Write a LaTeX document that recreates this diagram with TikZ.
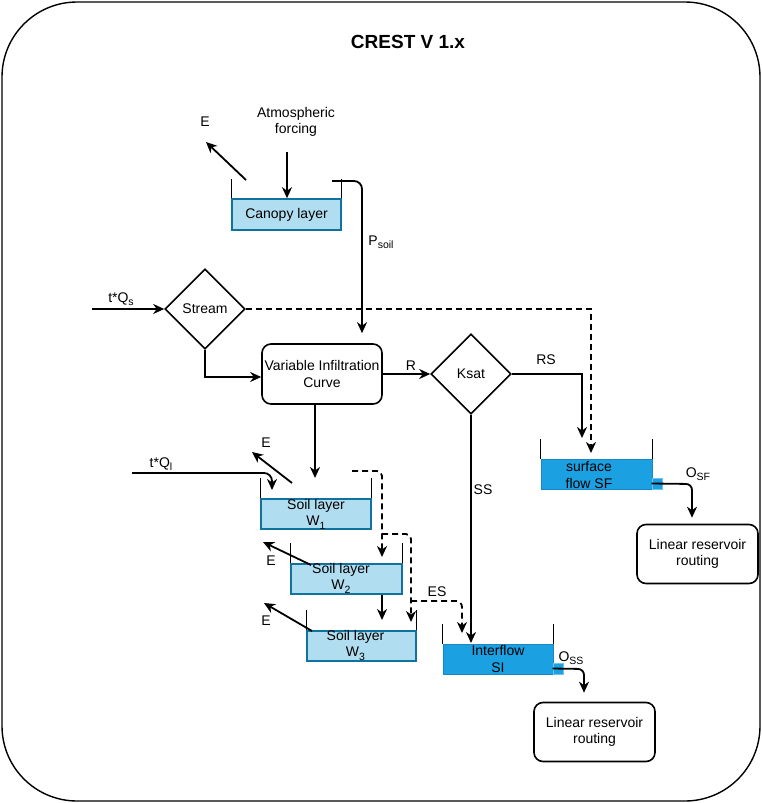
\documentclass[tikz,border=0pt]{standalone}
\usepackage{fontspec}
\setmainfont{Liberation Sans}
\usetikzlibrary{shapes.geometric,arrows.meta,calc}
\definecolor{lightfill}{HTML}{B1DDF0}
\definecolor{lightedge}{HTML}{10739E}
\definecolor{darkfill}{HTML}{1BA1E2}
\definecolor{darkedge}{HTML}{1A86C8}
\definecolor{outedge}{HTML}{6FC3EE}
\newcommand\fs{\fontsize{14}{16.5}\selectfont}
\newcommand\sbs[1]{\raisebox{-3.5pt}{\fontsize{10.5}{12}\selectfont #1}}
\begin{document}
\begin{tikzpicture}[x=1pt,y=-1pt,
  every node/.style={font=\fs, inner sep=0pt, align=center},
  arr/.style={line width=1.8pt, -{Stealth[length=11pt,width=10pt,inset=3.5pt]}},
  dsh/.style={arr, dash pattern=on 6pt off 4pt},
  wall/.style={line width=1.1pt},
  lighttank/.style={draw=lightedge, fill=lightfill, line width=1.6pt, minimum height=30pt},
  darktank/.style={draw=darkedge, fill=darkfill, line width=1pt, minimum height=30pt},
  outlet/.style={draw=outedge, fill=darkfill, line width=0.6pt, minimum width=10pt, minimum height=11pt},
  roundbox/.style={draw, line width=1.6pt, rounded corners=9pt, minimum width=121pt, minimum height=59pt},
  decision/.style={draw, diamond, aspect=1, line width=1.6pt, minimum width=80pt, minimum height=80pt}
]
\useasboundingbox (0,0) rectangle (762,803);
\draw[line width=1.4pt, rounded corners=75pt] (2,2) rectangle (760,801);
\node[font=\fontsize{19}{22}\selectfont\bfseries] (title) at (408,42) {CREST V 1.x};

% canopy
\node[lighttank, minimum width=109pt, minimum height=31pt] (canopy) at (286.5,214.5) {Canopy layer};
\draw[wall] (canopy.north west) -- ++(0,-19);
\draw[wall] (canopy.north east) -- ++(0,-19);
\node (atm) at (296,122) {Atmospheric\\forcing};
\coordinate (atmstart) at (287,152);
\draw[arr] (atmstart) -- (canopy.north -| atmstart);
\coordinate (ec1) at (246,180);
\coordinate (ec2) at (206,142);
\draw[arr] (ec1) -- (ec2);
\node (e0) at (205,122) {E};

% VIC, stream, ksat
\node[roundbox, minimum width=120pt, minimum height=60pt] (vic) at (322,374) {Variable Infiltration\\Curve};
\node[decision] (stream) at (205,309) {Stream};
\node[decision] (ksat) at (471,374) {Ksat};

\coordinate (psA) at (332,181);
\coordinate (psB) at (362,181);
\draw[arr, rounded corners=8pt] (psA) -- (psB) -- ([yshift=10pt]psB |- vic.north);
\node (psoil) at (381,242) {P\sbs{soil}};

\coordinate (qs) at (92,309);
\draw[arr] (qs) -- (stream.west);
\node (qslab) at (121,299) {t*Q\sbs{s}};
\draw[arr] (stream.south) |- ([yshift=-3pt]vic.west);

\draw[arr] (vic.east) -- (ksat.west);
\node (rlab) at (411,366) {R};

% surface flow tank
\node[darktank, minimum width=111pt] (sf) at (596.5,474) {};
\node (sft) at (589,475) {surface\\flow SF};
\draw[wall] (sf.north west) -- ++(0,-20);
\draw[wall] (sf.north east) -- ++(0,-20);
\node[outlet] (sfout) at (657,483.5) {};
\coordinate (dashend) at (591,453);
\draw[dsh] (stream.east) -| (dashend);
\coordinate (rsend) at (582,438);
\draw[arr] (ksat.east) -| (rsend);
\node (rslab) at (546,360) {RS};

\node[roundbox] (lr1) at (697.5,554) {Linear reservoir\\routing};
\coordinate (o1) at (692,484);
\draw[arr, rounded corners=6pt] (sfout.west) -- (o1) -- ([yshift=6pt]lr1.north -| o1);
\node (osf) at (698,474) {O\sbs{SF}};

% interflow tank
\node[darktank, minimum width=110pt] (si) at (498,659) {Interflow\\SI};
\draw[wall] (si.north west) -- ++(0,-20);
\draw[wall] (si.north east) -- ++(0,-20);
\node[outlet] (siout) at (558,668.5) {};
\coordinate (ssend) at (471,643);
\draw[arr] (ksat.south) -- (ssend);
\node (sslab) at (483,490) {SS};

\node[roundbox] (lr2) at (594.5,732) {Linear reservoir\\routing};
\coordinate (o2) at (584,669);
\draw[arr, rounded corners=6pt] (siout.west) -- (o2) -- ([yshift=9pt]lr2.north -| o2);
\node (oss) at (571,658) {O\sbs{SS}};

% soil layers
\node[lighttank, minimum width=110pt] (w1) at (316,514) {Soil layer\\W\sbs{1}};
\draw[wall] (w1.north west) -- ++(0,-20);
\draw[wall] (w1.north east) -- ++(0,-20);
\node[lighttank, minimum width=111pt] (w2) at (346.5,579) {};
\node (w2t) at (341,578) {Soil layer\\W\sbs{2}};
\draw[wall] (w2.north west) -- ++(0,-20);
\draw[wall] (w2.north east) -- ++(0,-20);
\node[lighttank, minimum width=109pt] (w3) at (361.5,646) {};
\node (w3t) at (355.5,645) {Soil layer\\W\sbs{3}};
\draw[wall] (w3.north west) -- ++(0,-20);
\draw[wall] (w3.north east) -- ++(0,-20);

\coordinate (w1in) at (315,478);
\draw[arr] (vic.south -| w1in) -- (w1in);

\coordinate (e1a) at (292,483);
\coordinate (e1b) at (252,452);
\draw[arr] (e1a) -- (e1b);
\node (e1) at (266,443) {E};

\coordinate (ql) at (132,473);
\coordinate (qlc) at (272,473);
\coordinate (qlend) at (272,490);
\draw[arr, rounded corners=8pt] (ql) -- (qlc) -- (qlend);
\node (qllab) at (161,464) {t*Q\sbs{l}};

\coordinate (da0) at (352,471);
\coordinate (da1) at (382,471);
\coordinate (da2) at (382,557);
\coordinate (db0) at (382,534);
\coordinate (db1) at (411,534);
\coordinate (db2) at (411,622);
\draw[dsh, rounded corners=5pt] (da0) -- (da1) -- (da2);
\draw[dsh, rounded corners=5pt] (db0) -- (db1) -- (db2);
\coordinate (es0) at (411,601);
\coordinate (es1) at (462,601);
\coordinate (es2) at (462,633);
\draw[dsh, rounded corners=6pt] (es0) -- (es1) -- (es2);
\node (eslab) at (437,592) {ES};

\coordinate (w3in) at (382,620);
\draw[arr] (w2.south -| w3in) -- (w3in);

\coordinate (e2a) at (311,565);
\coordinate (e2b) at (263,542);
\draw[arr] (e2a) -- (e2b);
\node (e2) at (271,561) {E};

\coordinate (e3a) at (312,631);
\coordinate (e3b) at (264,603);
\draw[arr] (e3a) -- (e3b);
\node (e3) at (266,621) {E};
\end{tikzpicture}
\end{document}
